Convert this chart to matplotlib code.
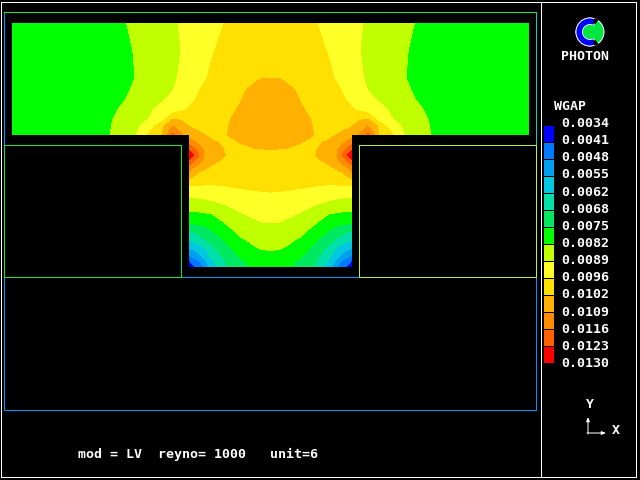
import numpy as np
import matplotlib
matplotlib.use("Agg")
import matplotlib.pyplot as plt
from matplotlib.patches import Circle, Wedge, Rectangle

# WGAP, in units of 1e-4. Left half of the T only,
# the right half of the picture mirrors it about x = 270.5
top_x = [12, 110, 125, 135, 150, 162, 173, 181, 189, 199, 212, 227, 240, 255, 262, 270]
top_y = [23, 50, 78, 90, 100, 110, 119, 126, 135]
top_wgap = [
    [78, 80.5, 81.8, 83, 85, 87, 88.5, 89.3, 90.6, 92.5, 94.4, 96.4, 97.8, 99, 99.3, 99.5],
    [78, 80.3, 81.3, 82.2, 84, 86.5, 88, 89, 90.8, 93, 95.6, 97.6, 98.8, 100, 100.3, 100.5],
    [78, 80, 81, 82, 84.5, 86.5, 88.3, 89.6, 91.7, 94.3, 97, 99, 100.5, 101.3, 101.98, 101.98],
    [78, 80.3, 81.5, 82.5, 85, 87.3, 88.9, 90.7, 93.2, 95.8, 98, 100.3, 101.3, 103, 103.7, 104],
    [78, 80.7, 82, 84, 86.5, 88.5, 90.5, 92.5, 94.5, 96.8, 98.6, 100.5, 101.8, 103.5, 104.5, 105],
    [78, 81, 83, 85.3, 88.3, 90.8, 93, 95.2, 96.6, 98, 99.3, 101, 102.4, 104, 104.9, 105.5],
    [78, 81.5, 84, 86.5, 89.3, 93, 102, 101, 99.5, 99, 100, 101.6, 103, 104.5, 105.1, 105.5],
    [78, 81.7, 84.6, 87, 93, 100.5, 109, 106, 101.7, 100.5, 100.5, 101.8, 103.2, 104.7, 105.2, 105.5],
    [78, 82, 85.5, 88, 97.5, 102, 118, 110, 105.5, 103, 100.8, 102, 103.5, 104.8, 104.9, 105],
]

slot_x = [189, 194, 199, 204, 212, 227, 240, 255, 262, 270]
slot_y = [135, 143, 150, 155, 160, 165, 172, 185, 197, 211, 223, 231, 240, 248, 255, 261, 267]
slot_wgap = [
    [105.5, 104.2, 103, 102.2, 100.8, 102, 103.5, 104.8, 104.9, 105],
    [114, 110.5, 107.5, 105.5, 102.9, 101, 102, 103, 103.1, 103.2],
    [123, 118, 113, 108.5, 105.5, 101, 101.2, 101.7, 101.8, 101.9],
    [128, 123, 116, 109, 106, 101.5, 101, 100.7, 100.7, 100.8],
    [123, 117, 112, 108, 104, 100.4, 100.5, 100.3, 100.4, 100.5],
    [116, 111, 108, 105, 102, 100, 100, 100, 100, 100],
    [108, 104.5, 102, 100.5, 99.5, 99, 99, 99, 99, 99],
    [96.3, 96.2, 96.1, 96, 95.9, 96.4, 96.9, 97.4, 97.6, 97.7],
    [89, 89.3, 89.6, 90, 91, 92, 93.8, 94.3, 94.6, 94.8],
    [82, 82.2, 82.5, 82.8, 83.2, 86.9, 89.3, 91, 91.3, 91.6],
    [75, 75.6, 76.2, 76.9, 77.9, 82.7, 85.9, 88, 88.9, 88.9],
    [68, 69, 70, 71.7, 74.6, 79.7, 83.7, 85.8, 86.5, 86.7],
    [62, 63.5, 65.3, 67, 70.3, 76.2, 81, 83.3, 84.2, 84.5],
    [55, 57, 59, 61.5, 66.4, 73.3, 78.3, 81.7, 82.4, 82.5],
    [48, 51, 54, 58, 64, 70.7, 76, 79, 80.5, 81],
    [40, 45, 47, 52.7, 61, 69, 74, 77, 78.5, 79],
    [35, 39.5, 43, 48, 58, 67.5, 73, 76, 76.5, 77],
]

levels = [34, 41, 48, 55, 62, 68, 75, 82, 89, 96, 102, 109, 116, 123, 130]
level_labels = ["0.0034", "0.0041", "0.0048", "0.0055", "0.0062", "0.0068", "0.0075", "0.0082",
                "0.0089", "0.0096", "0.0102", "0.0109", "0.0116", "0.0123", "0.0130"]
band_colors = ["#0000ff", "#0078ff", "#00a0f0", "#00c8e0", "#00e0a8", "#00e860", "#00ff00",
               "#c0ff00", "#ffff28", "#ffe000", "#ffb000", "#ff8c00", "#ff6000", "#ff0000"]

mono = "DejaVu Sans Mono"
px = 0.72  # one pixel at dpi 100


def mirrored(xs, values):
    xs = np.array(xs, dtype=float)
    values = np.array(values, dtype=float)
    full_x = np.concatenate([xs, 541 - xs[::-1]])
    full_v = np.hstack([values, values[:, ::-1]])
    return full_x, full_v


def label(x, y, s, **kw):
    ax.text(x, y, s, family=mono, fontsize=9.5, weight="bold", color="white", va="center", **kw)


def edge(xs, ys, color):
    ax.plot(xs, ys, color=color, lw=px, antialiased=False)


fig = plt.figure(figsize=(6.4, 4.8), dpi=100, facecolor="black")
ax = fig.add_axes([0, 0, 1, 1], facecolor="black")
ax.set_xlim(0, 640)
ax.set_ylim(480, 0)
ax.axis("off")

for xs, ys, vals in [(top_x, top_y, top_wgap), (slot_x, slot_y, slot_wgap)]:
    full_x, full_v = mirrored(xs, vals)
    ax.contourf(full_x, ys, full_v, levels=levels, colors=band_colors, antialiased=False)

# blocks and domain outline
edge([4, 4], [145, 12], "#0096ff")
edge([4, 536], [12, 12], "#14e650")
edge([536, 536], [12, 145], "#00d2c8")
edge([181, 359], [277, 277], "#0096ff")
edge([4, 4, 536, 536], [277, 410, 410, 277], "#0096ff")
edge([4, 181, 181, 4, 4], [145, 145, 277, 277, 145], "#28dc3c")
edge([359, 536, 536, 359, 359], [145, 145, 277, 277, 145], "#c8f028")

# white frame and divider
edge([1, 636, 636, 1, 1], [2, 2, 477, 477, 2], "white")
edge([541, 541], [2, 477], "white")

# logo
ax.add_patch(Circle((590, 32), 14.5, fc="white", ec="none"))
ax.add_patch(Circle((590, 32), 13.5, fc="#00e640", ec="none"))
ax.add_patch(Wedge((590, 32), 14, 62, 298, width=6.5, fc="#0000ff", ec="white", lw=0.6))
ax.add_patch(Wedge((590, 32), 14.5, 55, 72, width=5, fc="black", ec="none"))
ax.add_patch(Wedge((590, 32), 14.5, 288, 305, width=5, fc="black", ec="none"))
label(585.5, 56, "PHOTON", ha="center")

# colour key
label(554, 106, "WGAP")
for i, text in enumerate(level_labels):
    label(561, 123.5 + 240 * i / 14, text)
for i, color in enumerate(band_colors):
    ax.add_patch(Rectangle((544, 126 + 17 * i), 10, 16, fc=color, ec="none", antialiased=False))

# axis triad
ax.annotate("", xy=(588, 417), xytext=(588, 434),
            arrowprops=dict(arrowstyle="-|>,head_width=0.1,head_length=0.25", color="white", lw=px, shrinkA=0, shrinkB=0))
ax.annotate("", xy=(606, 433), xytext=(587, 433),
            arrowprops=dict(arrowstyle="-|>,head_width=0.1,head_length=0.25", color="white", lw=px, shrinkA=0, shrinkB=0))
label(590, 404, "Y", ha="center")
label(616, 430, "X", ha="center")

label(78, 454, "mod = LV  reyno= 1000   unit=6")

fig.savefig("out.png", dpi=100, facecolor="black")
